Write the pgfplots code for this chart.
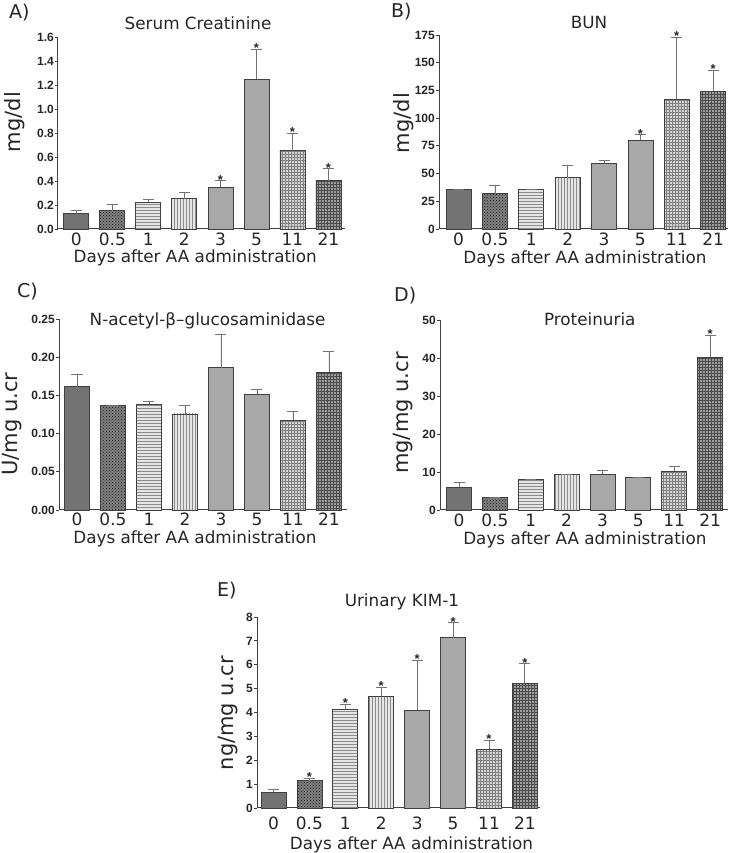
\documentclass[border=0pt]{standalone}
\usepackage{fontspec}
\setmainfont{DejaVu Sans}
\newfontfamily\arialf{Liberation Sans}
\usepackage{pgfplots}
\pgfplotsset{compat=1.18}
\usetikzlibrary{patterns}

\definecolor{axc}{gray}{0.25}
\definecolor{errc}{gray}{0.45}
\definecolor{c0}{gray}{0.45}
\definecolor{c05}{gray}{0.5}
\definecolor{c05p}{gray}{0.1}
\definecolor{c1}{gray}{0.9}
\definecolor{c1p}{gray}{0.55}
\definecolor{c2}{gray}{0.9}
\definecolor{c2p}{gray}{0.55}
\definecolor{c3}{gray}{0.66}
\definecolor{c5}{gray}{0.66}
\definecolor{c11}{gray}{0.84}
\definecolor{c11p}{gray}{0.5}
\definecolor{c21}{gray}{0.62}
\definecolor{c21p}{gray}{0.3}

\pgfplotsset{
  bbase/.style={ybar, bar width=25pt, bar shift=0pt, draw=black!75, line width=0.8pt,
    error bars/.cd, y dir=plus, y explicit,
    error bar style={errc, line width=0.9pt},
    error mark options={rotate=90, mark size=5.5pt, errc, line width=0.9pt}},
  b0/.style={fill=c0, bbase},
  b05/.style={fill=c05, postaction={pattern=crosshatch dots, pattern color=c05p}, bbase},
  b1/.style={fill=c1, postaction={pattern=horizontal lines, pattern color=c1p}, bbase},
  b2/.style={fill=c2, postaction={pattern=vertical lines, pattern color=c2p}, bbase},
  b3/.style={fill=c3, bbase},
  b5/.style={fill=c5, bbase},
  b11/.style={fill=c11, postaction={pattern=grid, pattern color=c11p}, bbase},
  b21/.style={fill=c21, postaction={pattern=grid, pattern color=c21p}, bbase},
  stars/.style={draw=none, mark=none, nodes near coords={\arialf\bfseries\fontsize{13}{13}\selectfont *},
    every node near coord/.append style={anchor=base, inner sep=0pt, yshift=-3.5pt, text=black!85}},
  panel/.style={
    scale only axis, clip=false, anchor=south west,
    axis x line=bottom, axis y line=left,
    axis line style={-, axc, line width=1pt},
    every outer x axis line/.append style={-},
    every outer y axis line/.append style={-},
    every inner x axis line/.append style={-},
    every inner y axis line/.append style={-},
    ymin=0,
    xtick={0,...,7}, xticklabels={0,0.5,1,2,3,5,11,21},
    xtick style={draw=none},
    ytick style={axc, line width=0.8pt},
    tick align=outside, major tick length=3pt,
    xticklabel style={font=\fontsize{17}{17}\selectfont, anchor=base, inner sep=0pt, text=black!85},
    yticklabel style={font=\arialf\bfseries\fontsize{12}{12}\selectfont, inner sep=1pt, text=black!85},
    /pgf/number format/assume math mode=true,
    title style={font=\fontsize{16.8}{16.8}\selectfont, anchor=base, inner sep=0pt, text=black!85},
    xlabel style={font=\fontsize{16.8}{16.8}\selectfont, anchor=base, inner sep=0pt, text=black!85},
    ylabel style={font=\fontsize{21}{21}\selectfont, anchor=north, inner sep=0pt, text=black!85},
    xlabel={Days after AA administration},
  }
}

\begin{document}
\begin{tikzpicture}[x=1pt,y=1pt]
\useasboundingbox (0,0) rectangle (732,853);

% ---------- A ----------
\begin{axis}[panel, at={(58pt,624pt)}, width=287pt, height=192pt,
  xmin=-0.51, xmax=7.46, ymax=1.6,
  ytick={0,0.2,0.4,0.6,0.8,1.0,1.2,1.4,1.6},
  yticklabel style={/pgf/number format/.cd, fixed, fixed zerofill, precision=1},
  xticklabel style={yshift=-14pt},
  title={Serum Creatinine}, title style={at={(axis description cs:0.488,1.007)}},
  xlabel style={at={(axis description cs:0.478,0)}, yshift=-34pt},
  ylabel={mg/dl}, ylabel style={at={(axis description cs:-0.188,0.557)}},
]
\addplot[b0]  coordinates {(0,0.128) +- (0,0.025)};
\addplot[b05] coordinates {(1,0.153) +- (0,0.05)};
\addplot[b1]  coordinates {(2,0.222) +- (0,0.02)};
\addplot[b2]  coordinates {(3,0.253) +- (0,0.05)};
\addplot[b3]  coordinates {(4,0.35) +- (0,0.053)};
\addplot[b5]  coordinates {(5,1.25) +- (0,0.25)};
\addplot[b11] coordinates {(6,0.653) +- (0,0.147)};
\addplot[b21] coordinates {(7,0.403) +- (0,0.1)};
\addplot[stars] coordinates {(4,0.403) (5,1.5) (6,0.8) (7,0.503)};
\end{axis}

% ---------- B ----------
\begin{axis}[panel, at={(439pt,624pt)}, width=289pt, height=194pt,
  xmin=-0.54, xmax=7.41, ymax=175,
  ytick={0,25,50,75,100,125,150,175},
  xticklabel style={yshift=-14pt},
  title={BUN}, title style={at={(axis description cs:0.519,1.0)}},
  xlabel style={at={(axis description cs:0.505,0)}, yshift=-35pt},
  ylabel={mg/dl}, ylabel style={at={(axis description cs:-0.159,0.546)}},
]
\addplot[b0]  coordinates {(0,35.8) +- (0,0.3)};
\addplot[b05] coordinates {(1,31.9) +- (0,7.6)};
\addplot[b1]  coordinates {(2,35.8) +- (0,0.3)};
\addplot[b2]  coordinates {(3,46.4) +- (0,11.1)};
\addplot[b3]  coordinates {(4,59.3) +- (0,2.1)};
\addplot[b5]  coordinates {(5,80.1) +- (0,5.1)};
\addplot[b11] coordinates {(6,117.2) +- (0,55.7)};
\addplot[b21] coordinates {(7,124.4) +- (0,19)};
\addplot[stars] coordinates {(5,85.2) (6,172.9) (7,143.4)};
\end{axis}

% ---------- C ----------
\begin{axis}[panel, at={(59pt,343pt)}, width=288pt, height=191pt,
  xmin=-0.5, xmax=7.5, ymax=0.25,
  ytick={0,0.05,0.10,0.15,0.20,0.25},
  yticklabel style={/pgf/number format/.cd, fixed, fixed zerofill, precision=2},
  xticklabel style={yshift=-13pt},
  title={N-acetyl-β–glucosaminidase}, title style={at={(axis description cs:0.516,0.932)}},
  xlabel style={at={(axis description cs:0.472,0)}, yshift=-33.5pt},
  ylabel={U/mg u.cr}, ylabel style={at={(axis description cs:-0.198,0.45)}},
]
\addplot[b0]  coordinates {(0,0.1614) +- (0,0.0166)};
\addplot[b05] coordinates {(1,0.1374) +- (0,0)};
\addplot[b1]  coordinates {(2,0.1387) +- (0,0.0033)};
\addplot[b2]  coordinates {(3,0.1257) +- (0,0.0117)};
\addplot[b3]  coordinates {(4,0.1863) +- (0,0.0441)};
\addplot[b5]  coordinates {(5,0.1518) +- (0,0.0062)};
\addplot[b11] coordinates {(6,0.1174) +- (0,0.0113)};
\addplot[b21] coordinates {(7,0.1802) +- (0,0.0275)};
\end{axis}

% ---------- D ----------
\begin{axis}[panel, at={(440pt,343pt)}, width=288pt, height=190pt,
  xmin=-0.53, xmax=7.5, ymax=50,
  ytick={0,10,20,30,40,50},
  xticklabel style={yshift=-14pt},
  title={Proteinuria}, title style={at={(axis description cs:0.52,0.937)}},
  xlabel style={at={(axis description cs:0.503,0)}, yshift=-34.5pt},
  ylabel={mg/mg u.cr}, ylabel style={at={(axis description cs:-0.163,0.51)}},
]
\addplot[b0]  coordinates {(0,5.96) +- (0,1.23)};
\addplot[b05] coordinates {(1,3.42) +- (0,0)};
\addplot[b1]  coordinates {(2,8.16) +- (0,0)};
\addplot[b2]  coordinates {(3,9.47) +- (0,0)};
\addplot[b3]  coordinates {(4,9.39) +- (0,1.11)};
\addplot[b5]  coordinates {(5,8.5) +- (0,0)};
\addplot[b11] coordinates {(6,10.26) +- (0,1.14)};
\addplot[b21] coordinates {(7,40.2) +- (0,5.85)};
\addplot[stars] coordinates {(7,46.05)};
\end{axis}

% ---------- E ----------
\begin{axis}[panel, at={(257pt,45pt)}, width=283pt, height=191pt,
  xmin=-0.46, xmax=7.42, ymax=8,
  ytick={0,1,2,3,4,5,6,7,8},
  xticklabel style={yshift=-18pt},
  title={Urinary KIM-1}, title style={at={(axis description cs:0.512,1.026)}},
  xlabel style={at={(axis description cs:0.546,0)}, yshift=-41pt},
  ylabel={ng/mg u.cr}, ylabel style={at={(axis description cs:-0.138,0.497)}},
]
\addplot[b0]  coordinates {(0,0.668) +- (0,0.097)};
\addplot[b05] coordinates {(1,1.14) +- (0,0.1)};
\addplot[b1]  coordinates {(2,4.146) +- (0,0.194)};
\addplot[b2]  coordinates {(3,4.69) +- (0,0.36)};
\addplot[b3]  coordinates {(4,4.10) +- (0,2.09)};
\addplot[b5]  coordinates {(5,7.14) +- (0,0.62)};
\addplot[b11] coordinates {(6,2.46) +- (0,0.38)};
\addplot[b21] coordinates {(7,5.22) +- (0,0.82)};
\addplot[stars] coordinates {(1,1.24) (2,4.34) (3,5.05) (4,6.19) (5,7.76) (6,2.84) (7,6.04)};
\end{axis}

% panel letters
\begin{scope}[every node/.style={anchor=base west, inner sep=0pt, font=\fontsize{19}{19}\selectfont, text=black!85}]
\node at (9,834.7) {A)};
\node at (391,835) {B)};
\node at (17,555) {C)};
\node at (394,551) {D)};
\node at (217,256) {E)};
\end{scope}
\end{tikzpicture}
\end{document}
